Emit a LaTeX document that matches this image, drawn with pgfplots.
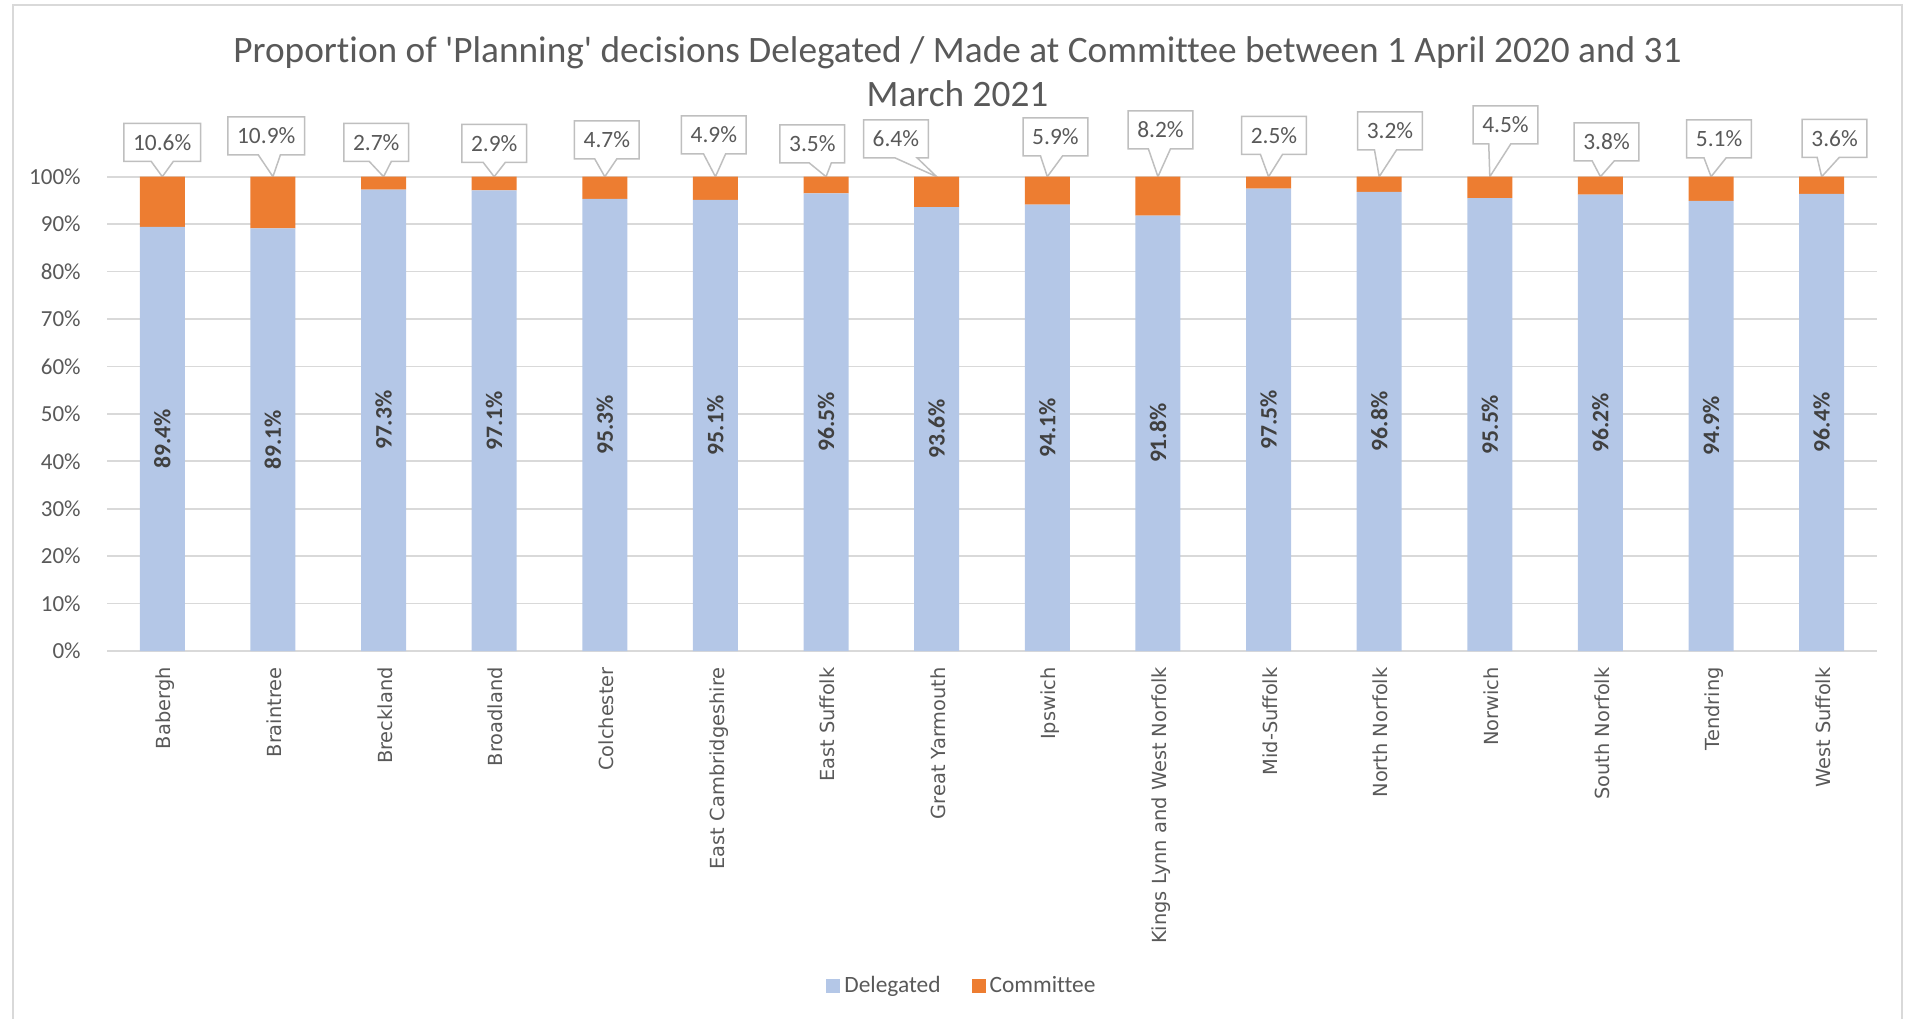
\documentclass[border=0pt]{standalone}
\usepackage{pgfplots}
\usepackage{pgfplotstable}
\pgfplotsset{compat=1.18}
\usetikzlibrary{shapes.callouts,calc}
\usepackage{fontspec}
\setmainfont{Carlito}[Ligatures={TeX,NoCommon}]
\newfontfamily\dejavu{DejaVu Sans}
\definecolor{deleg}{HTML}{B4C7E7}
\definecolor{comm}{HTML}{ED7D31}
\definecolor{txt}{HTML}{595959}
\definecolor{gridc}{HTML}{D9D9D9}
\definecolor{cbord}{HTML}{BFBFBF}
\definecolor{lbl}{HTML}{404040}

\pgfplotstableread{
i del com
0 89.4 10.6
1 89.1 10.9
2 97.3 2.7
3 97.1 2.9
4 95.3 4.7
5 95.1 4.9
6 96.5 3.5
7 93.6 6.4
8 94.1 5.9
9 91.8 8.2
10 97.5 2.5
11 96.8 3.2
12 95.5 4.5
13 96.2 3.8
14 94.9 5.1
15 96.4 3.6
}\datatable

\tikzset{callbox/.style={rectangle callout, draw=cbord, line width=0.75bp, fill=white,
  font=\fontsize{11.7bp}{14bp}\selectfont, text=txt, inner xsep=4.6bp, inner ysep=0pt,
  minimum height=19bp, callout pointer width=11bp}}
\newcommand{\callout}[4]{\node[callbox, callout absolute pointer={(axis cs:#1,100)}] at ($(axis cs:#1,100)+(#3bp,#4bp)$) {#2};}

\begin{document}
\begin{tikzpicture}
\path[use as bounding box] (-53.5bp,-184bp) rectangle (900bp,325.5bp);
\draw[gridc, line width=0.75bp] (-47bp,-184bp) -- (-47bp,323bp) -- (897.5bp,323bp) -- (897.5bp,-184bp);
\node[anchor=base, font=\fontsize{18.65bp}{22bp}\selectfont, text=txt] at (425.25bp,294.3bp)
  {Proportion of \textquotesingle Planning\textquotesingle{} decisions Delegated / Made at Committee between 1 April 2020 and 31};
\node[anchor=base, font=\fontsize{18.65bp}{22bp}\selectfont, text=txt] at (425.25bp,272.3bp) {March 2021};
\begin{axis}[
  at={(0,0)}, anchor=south west,
  scale only axis, width=885bp, height=237.15bp,
  xmin=-0.5, xmax=15.5, ymin=0, ymax=100,
  ybar stacked, bar width=22.5bp,
  clip=false,
  axis line style={draw=none},
  ymajorgrids, major grid style={gridc, line width=0.9bp},
  tick style={draw=none}, major tick length=0pt,
  xtick={0,...,15},
  xticklabels={Babergh,Braintree,Breckland,Broadland,Colchester,East Cambridgeshire,East Suffolk,Great Yarmouth,Ipswich,Kings Lynn and West Norfolk,Mid-Suffolk,North Norfolk,Norwich,South Norfolk,Tendring,West Suffolk},
  ytick={0,10,...,100},
  yticklabel={\pgfmathprintnumber{\tick}\%},
  /pgf/number format/assume math mode=true,
  yticklabel style={font=\fontsize{11.5bp}{13bp}\selectfont, text=txt, inner sep=0pt},
  yticklabel shift=13bp,
  xticklabel style={font=\dejavu\fontsize{9.7bp}{11bp}\selectfont, text=txt, inner sep=0pt,
     text height=0.76em, text depth=0.24em, xshift=1.7bp, rotate=90, anchor=east},
  xticklabel shift=8bp,
  legend style={at={(0.4836,-0.7057)}, anchor=center, draw=none, fill=none, legend columns=-1,
     font=\fontsize{11.7bp}{14bp}\selectfont, text=txt,
     /tikz/every even column/.append style={column sep=13.5bp}},
  legend image code/.code={\fill[#1] (0bp,-3.5bp) rectangle (7bp,3.5bp);},
]
\addplot[fill=deleg, draw=none, point meta=explicit,
  nodes near coords={\pgfmathprintnumber[fixed,fixed zerofill,precision=1]{\pgfplotspointmeta}\%},
  nodes near coords align={center},
  every node near coord/.append style={rotate=90, anchor=center,
     font=\bfseries\fontsize{11.8bp}{14bp}\selectfont, text=lbl}]
  table[x=i, y=del, meta=del]{\datatable};
\addlegendentry{Delegated}
\addplot[fill=comm, draw=none] table[x=i, y=com]{\datatable};
\addlegendentry{Committee}
\callout{0}{10.6\%}{-0.05}{17.1}
\callout{1}{10.9\%}{-3.35}{20.35}
\callout{2}{2.7\%}{-3.65}{17.1}
\callout{3}{2.9\%}{0.05}{16.6}
\callout{4}{4.7\%}{1}{18.35}
\callout{5}{4.9\%}{-0.8}{20.85}
\callout{6}{3.5\%}{-6.85}{16.35}
\callout{7}{6.4\%}{-20.4}{18.85}
\callout{8}{5.9\%}{4.05}{19.85}
\callout{9}{8.2\%}{1.25}{23.35}
\callout{10}{2.5\%}{2.7}{20.6}
\callout{11}{3.2\%}{5.4}{22.85}
\callout{12}{4.5\%}{7.85}{25.85}
\callout{13}{3.8\%}{3.05}{17.35}
\callout{14}{5.1\%}{4}{18.85}
\callout{15}{3.6\%}{6.45}{19.1}
\end{axis}
\end{tikzpicture}
\end{document}
